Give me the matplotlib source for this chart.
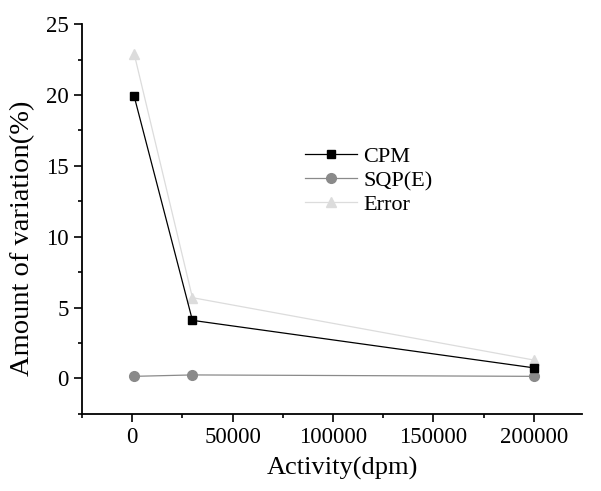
import matplotlib.pyplot as plt
from matplotlib.ticker import MultipleLocator

plt.rcParams['font.family'] = ['Liberation Serif', 'DejaVu Serif']

# -- data ----------------------
activity = [1000, 30000, 200000]
cpm = [19.9, 4.1, 0.75]
sqp = [0.15, 0.25, 0.15]
error = [22.9, 5.7, 1.3]

fig = plt.figure(figsize=(6.01, 4.91), dpi=100)
ax = fig.add_axes([0.1364, 0.157, 0.832, 0.794])

ax.plot(activity, error, color='#dcdcdc', lw=0.9, marker='^', ms=7, label='Error', zorder=1)
ax.plot(activity, cpm, color='black', lw=0.9, marker='s', ms=6, label='CPM', zorder=3)
ax.plot(activity, sqp, color='#8a8a8a', lw=0.9, marker='o', ms=7, label='SQP(E)', zorder=2)

ax.set_xlim(-25000, 224000)
ax.set_ylim(-2.5, 25)
ax.xaxis.set_major_locator(MultipleLocator(50000))
ax.xaxis.set_minor_locator(MultipleLocator(25000))
ax.yaxis.set_major_locator(MultipleLocator(5))
ax.yaxis.set_minor_locator(MultipleLocator(2.5))
ax.tick_params(which='major', length=6, width=1.2, labelsize=16.5)
ax.tick_params(which='minor', length=3, width=1.2)
ax.spines['top'].set_visible(False)
ax.spines['right'].set_visible(False)
for s in ('left', 'bottom'):
    ax.spines[s].set_linewidth(1.3)

ax.set_xlabel('Activity(dpm)', fontsize=19)
ax.set_ylabel('Amount of variation(%)', fontsize=20.5)
ax.xaxis.set_label_coords(0.52, -0.11)
ax.yaxis.set_label_coords(-0.094, 0.45)

h, l = ax.get_legend_handles_labels()
order = [1, 2, 0]
ax.legend([h[i] for i in order], [l[i] for i in order], loc='upper left',
          bbox_to_anchor=(0.475, 0.742), bbox_transform=fig.transFigure,
          frameon=False, fontsize=16, handlelength=2.3, labelspacing=0.15,
          handletextpad=0.3)

fig.savefig('out.png', dpi=100)
